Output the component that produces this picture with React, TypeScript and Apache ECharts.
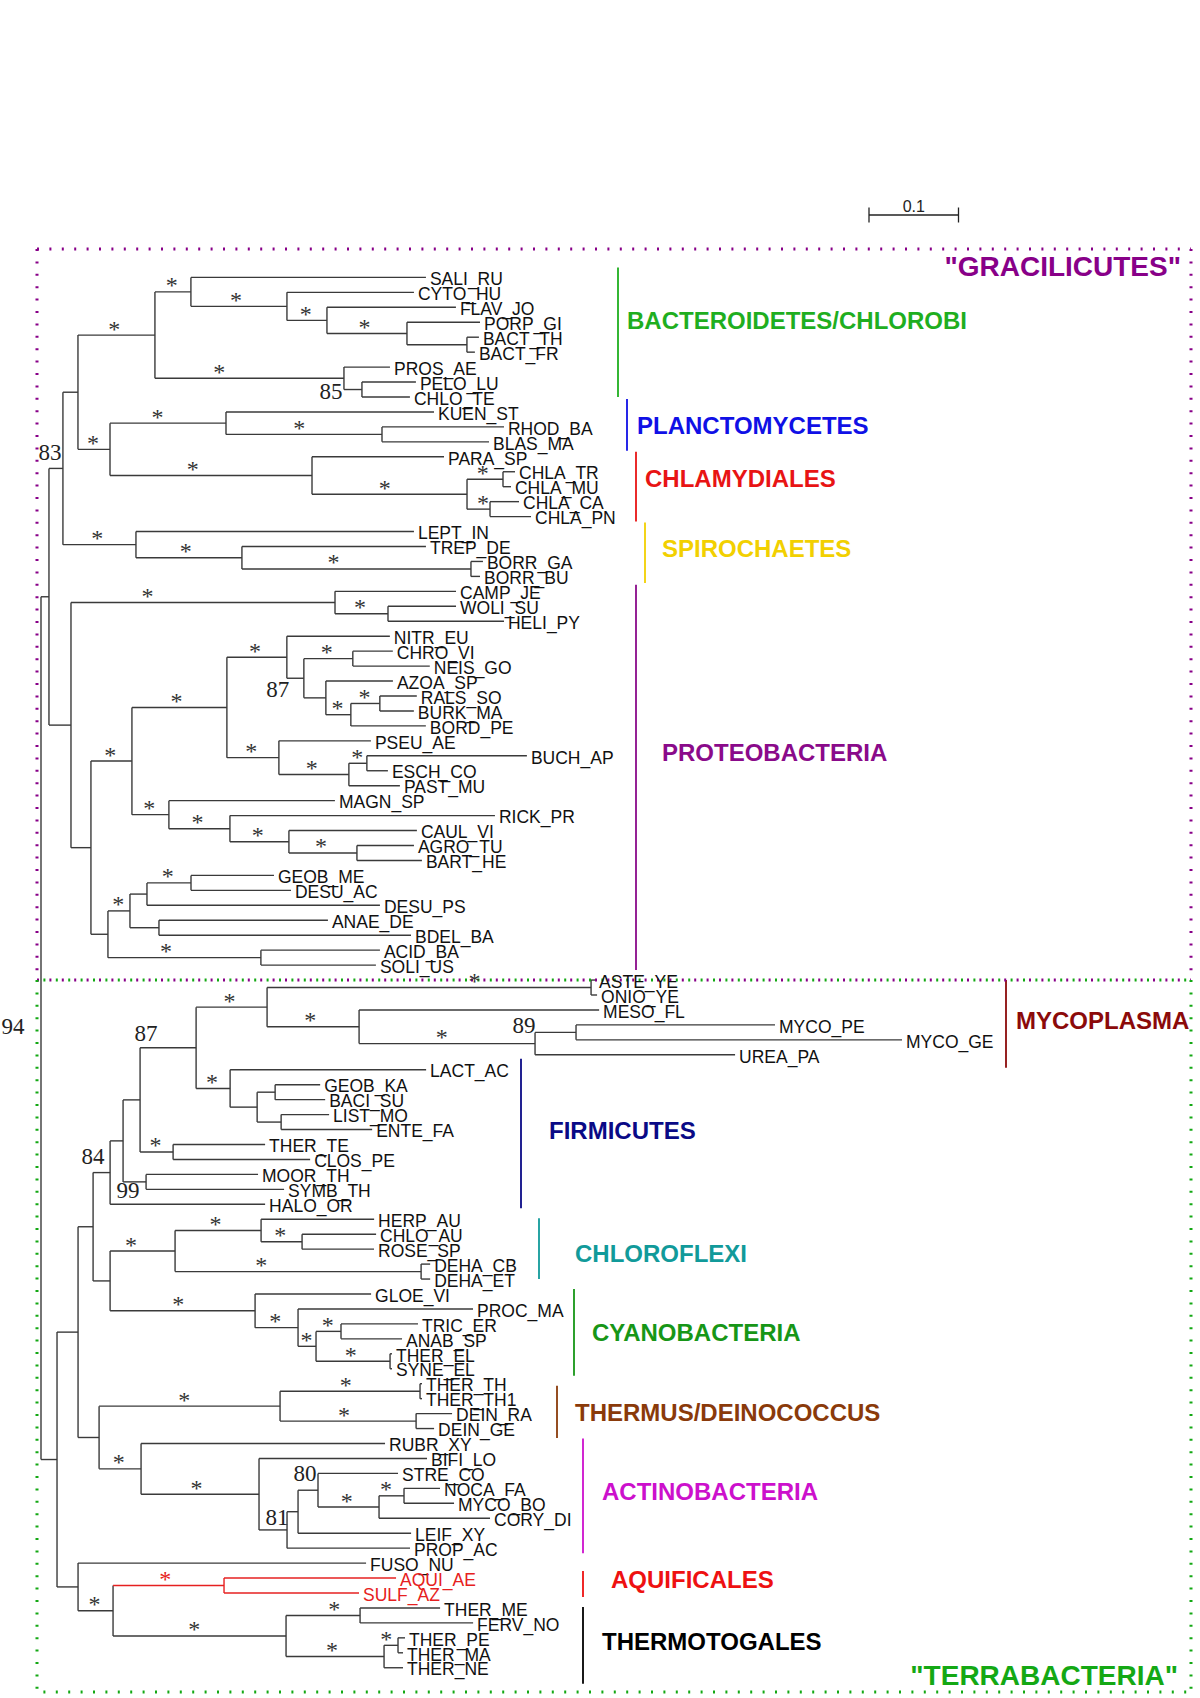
import React, { useEffect, useRef } from "react";
import * as echarts from "echarts";

// ---------------- DATA (Newick clades, branch lengths in substitutions/site) ----------------
// internal labels: "*" = full support, numbers = bootstrap, "#tag" = layout/colour tag
const BACTEROIDETES =
  "((SALI_RU:0.2626,(CYTO_HU:0.1419,(FLAV_JO:0.1441,(PORP_GI:0.0816,(BACT_TH:0.0134,BACT_FR:0.0089):0.0670)*:0.0894)*:0.0447)*:0.1073)*:0.0402,(PROS_AE:0.0514,(PELO_LU:0.0603,CHLO_TE:0.0536)85#n85:0.0201)*#a34:0.2112)";
const PLANCTOMYCETES = "(KUEN_ST:0.2324,(RHOD_BA:0.1363,BLAS_MA:0.1196)*:0.1743)";
const CHLAMYDIALES =
  "(PARA_SP:0.1475,((CHLA_TR:0.0134,CHLA_MU:0.0089)*#a44:0.0402,(CHLA_CA:0.0324,CHLA_PN:0.0458)*#a70:0.0257)*:0.1732)";
const SPIROCHAETES = "(LEPT_IN:0.3106,(TREP_DE:0.2056,(BORR_GA:0.0134,BORR_BU:0.0101)*#a40:0.2559)*:0.1184)";
const EPSILON = "(CAMP_JE:0.1352,(WOLI_SU:0.0760,HELI_PY:0.1296)*:0.0592)";
const BETA_GAMMA =
  "((NITR_EU:0.1151,((CHRO_VI:0.0447,NEIS_GO:0.0860)*:0.0547,(AZOA_SP:0.0749,((RALS_SO:0.0413,BURK_MA:0.0380)*:0.0324,BORD_PE:0.0838)*:0.0279)87#n87a:0.0246):0.0190)*:0.0670,(PSEU_AE:0.1028,((BUCH_AP:0.1788,ESCH_CO:0.0235)*:0.0201,PAST_MU:0.0570)*:0.0782)*:0.0581)";
const ALPHA = "(MAGN_SP:0.1855,(RICK_PR:0.2961,(CAUL_VI:0.1430,(AGRO_TU:0.0637,BART_HE:0.0726)*:0.0760)*:0.0659)*:0.0682)";
const DELTA_ACIDO =
  "((((GEOB_ME:0.0927,DESU_AC:0.1117)*:0.0492,DESU_PS:0.2603):0.0190,(ANAE_DE:0.1888,BDEL_BA:0.2816):0.0324)*:0.0246,(ACID_BA:0.1330,SOLI_US:0.1285)*#a38:0.1709)";
const MOLLICUTES =
  "((ASTE_YE:0.0045,ONIO_YE:0.0067)*#a64:0.3620,(MESO_FL:0.2682,((MYCO_PE:0.2223,MYCO_GE:0.3642)89#n89:0.0458,UREA_PA:0.2235)*:0.1966)*:0.1028)";
const BACILLI = "(LACT_AC:0.2190,((GEOB_KA:0.0503,BACI_SU:0.0559):0.0201,(LIST_MO:0.0536,ENTE_FA:0.1017):0.0268):0.0302)";
const CHLOROFLEXI =
  "((HERP_AU:0.1263,(CHLO_AU:0.0827,ROSE_SP:0.0804)*:0.0458)*:0.0961,(DEHA_CB:0.0101,DEHA_ET:0.0101)*#a35:0.2749)";
const CYANOBACTERIA =
  "(GLOE_VI:0.1296,(PROC_MA:0.1955,((TRIC_ER:0.0860,ANAB_SP:0.0682)*:0.0279,(THER_EL:0.0022,SYNE_EL:0.0022)*:0.0827)*:0.0201)*:0.0480)";
const THERMUS = "((THER_TH:0.0022,THER_TH1:0.0022)*:0.1564,(DEIN_RA:0.0402,DEIN_GE:0.0201)*:0.1520)";
const ACTINO =
  "(RUBR_XY:0.2726,(BIFI_LO:0.1877,(((STRE_CO:0.0894,((NOCA_FA:0.0402,MYCO_BO:0.0559)*#a28:0.0279,CORY_DI:0.1240)*:0.0682)80#n80:0.0223,LEIF_XY:0.1263):0.0123,PROP_AC:0.1374)81#n81:0.0313)*:0.1318)";
const AQUIFICALES = "(AQUI_AE:0.1922,SULF_AZ:0.1508)";
const THERMOTOGALES =
  "((THER_ME:0.0894,FERV_NO:0.1263)*#a65:0.0827,((THER_PE:0.0078,THER_MA:0.0056)*#a15:0.0156,THER_NE:0.0212)*:0.1095)";

const FIRMICUTES = `((((${MOLLICUTES}*:0.0793,${BACILLI}*:0.0380)87#n87b:0.0626,(THER_TE:0.1028,CLOS_PE:0.1531)*:0.0369):0.0190,(MOOR_TH:0.1251,SYMB_TH:0.1542)99#n99:0.0257):0.0145,HALO_OR:0.1732)`;
const GRACILICUTES = `((((${BACTEROIDETES}*:0.0860,(${PLANCTOMYCETES}*#a41:0.1296,${CHLAMYDIALES}*#a41:0.2257)*:0.0358):0.0168,${SPIROCHAETES}*:0.0816)83#n83:0.0156,(${EPSILON}*#a29:0.2950,((${BETA_GAMMA}*:0.1061,${ALPHA}*:0.0413)*:0.0458,${DELTA_ACIDO}:0.0190):0.0223):0.0246)`;
const TERRABACTERIA = `(((${FIRMICUTES}84#n84:0.0190,(${CHLOROFLEXI}*#a32:0.0726,${CYANOBACTERIA}*:0.1620):0.0190):0.0168,(${THERMUS}*:0.2022,${ACTINO}*:0.0469):0.0235):0.0235,(FUSO_NU:0.3218,(${AQUIFICALES}*#aqui:0.1240,${THERMOTOGALES}*:0.1933)*:0.0391):0.0235)`;
const TREE = `(${GRACILICUTES}:0.0089,${TERRABACTERIA}:0.0179)94#n94;`;

const GROUP_NAMES = [
  "BACTEROIDETES/CHLOROBI", "PLANCTOMYCETES", "CHLAMYDIALES", "SPIROCHAETES", "PROTEOBACTERIA",
  "MYCOPLASMA", "FIRMICUTES", "CHLOROFLEXI", "CYANOBACTERIA", "THERMUS/DEINOCOCCUS",
  "ACTINOBACTERIA", "AQUIFICALES", "THERMOTOGALES",
];
const GROUP_FIRST = ["SALI_RU", "KUEN_ST", "PARA_SP", "LEPT_IN", "CAMP_JE", "ASTE_YE", "LACT_AC", "HERP_AU", "GLOE_VI", "THER_TH", "RUBR_XY", "AQUI_AE", "THER_ME"];
const GROUP_LAST = ["CHLO_TE", "BLAS_MA", "CHLA_PN", "BORR_BU", "SOLI_US", "UREA_PA", "HALO_OR", "DEHA_ET", "SYNE_EL", "DEIN_GE", "PROP_AC", "SULF_AZ", "THER_NE"];
const SUPERGROUPS = ['"GRACILICUTES"', '"TERRABACTERIA"'];
const SCALE_BAR_LENGTH = 0.1;
const SCALE_BAR_LABEL = "0.1";

// ---------------- STYLE / LAYOUT ----------------
const GROUP_COLORS = ["#1fae1f", "#1010e6", "#e81414", "#f2d000", "#8a0a8a", "#8b0a0a", "#0a0a86", "#119a9a", "#179617", "#8a3a0a", "#cc10cc", "#ee1111", "#000000"];
// bar x(px), pad top(px), pad bottom(px), text x(px), text y(px)
const GROUP_LAYOUT = [
  [618, -10, 0, 627, 320], [627, -13, 9, 637, 425], [636, -5, 5, 645, 478], [645, -9, 6.5, 662, 548],
  [636, -6.5, 5, 662, 752], [1006, 0, 13, 1016, 1020], [521, -11, 4, 549, 1130], [539, -1, 0, 575, 1253],
  [574, -5, 7, 592, 1332], [557, 2, 9.5, 575, 1412], [583, -5, 5, 602, 1491], [583, -7, 4, 611, 1579],
  [583, -1, 16, 602, 1641],
];
const ASTERISK_FRACTION: Record<string, number> = {
  a34: 0.34, a29: 0.29, a41: 0.41, a40: 0.4, a38: 0.38, a64: 0.64, a32: 0.32, a35: 0.35,
  a65: 0.65, a15: 0.15, a28: 0.28, a70: 0.7, a44: 0.44,
};
const SUPPORT_OFFSET: Record<string, number[]> = {
  n83: [1, -16], n85: [-13, 2], n87a: [-26, -8], n94: [-28, -2], n87b: [6, -14], n89: [-11, -7],
  n84: [0, -16], n99: [5, 9], n80: [7, -17], n81: [18, -12],
};
const PX_PER_UNIT = 895;
const ROOT_PX = 41;
const TOP_PX = 277.4;
const ROW_PX = 14.95;
const W = 1200;
const H = 1698;
const LINE = "#3a3a3a";
const RED = "#e62020";
const PURPLE = "#880088";
const GREEN = "#14a814";
const SANS = "'Liberation Sans', Arial, sans-serif";
const SERIF = "'Liberation Serif', 'Times New Roman', serif";

const pxX = (px: number) => (px - ROOT_PX) / PX_PER_UNIT;
const pxY = (px: number) => (px - TOP_PX) / ROW_PX;

type TNode = { name: string; len: number; children: TNode[]; label: string; tag: string; x: number; y: number; parent: TNode | null; red: boolean };

function parseNewick(src: string): TNode {
  const s = src.replace(/\s+/g, "");
  let i = 0;
  const readNode = (parent: TNode | null): TNode => {
    const node: TNode = { name: "", len: 0, children: [], label: "", tag: "", x: 0, y: 0, parent, red: false };
    if (s[i] === "(") {
      i++;
      node.children.push(readNode(node));
      while (s[i] === ",") { i++; node.children.push(readNode(node)); }
      i++;
    }
    let lab = "";
    while (i < s.length && ":,);".indexOf(s[i]) < 0) lab += s[i++];
    if (s[i] === ":") {
      i++;
      let num = "";
      while (i < s.length && ",);".indexOf(s[i]) < 0) num += s[i++];
      node.len = parseFloat(num);
    }
    if (node.children.length) {
      const parts = lab.split("#");
      node.label = parts[0] || "";
      node.tag = parts[1] || "";
    } else node.name = lab;
    return node;
  };
  return readNode(null);
}

type Seg = { x1: number; y1: number; x2: number; y2: number; color: string; w: number; dash?: number[]; off?: number };
type Txt = { x: number; y: number; text: string; dx: number; dy: number; color: string; size: number; family: string; weight: string; align: string; vAlign: string };

function build() {
  const root = parseNewick(TREE);
  const all: TNode[] = [];
  const leafY: Record<string, number> = {};
  let counter = 0;
  const layout = (n: TNode, x: number, red: boolean) => {
    n.x = x;
    n.red = red || n.tag === "aqui";
    all.push(n);
    if (!n.children.length) { n.y = counter++; leafY[n.name] = n.y; return; }
    n.children.forEach((c) => layout(c, x + c.len, n.red));
    n.y = (n.children[0].y + n.children[n.children.length - 1].y) / 2;
  };
  layout(root, 0, false);

  const segs: Seg[] = [];
  const texts: Txt[] = [];
  for (const n of all) {
    const col = n.red ? RED : LINE;
    if (n.parent) segs.push({ x1: n.parent.x, y1: n.y, x2: n.x, y2: n.y, color: col, w: 1.4 });
    if (n.children.length) {
      segs.push({ x1: n.x, y1: n.children[0].y, x2: n.x, y2: n.children[n.children.length - 1].y, color: col, w: 1.4 });
      if (n.label === "*" && n.parent) {
        const f = ASTERISK_FRACTION[n.tag] ?? 0.47;
        texts.push({ x: n.parent.x + f * n.len, y: n.y, text: "*", dx: 0, dy: -6.5, color: n.red ? RED : "#333", size: 24, family: SERIF, weight: "normal", align: "center", vAlign: "middle" });
      } else if (n.label) {
        const off = SUPPORT_OFFSET[n.tag] || [0, -14];
        const ax = n.parent ? n.parent.x : n.x;
        texts.push({ x: ax, y: n.y, text: n.label, dx: off[0], dy: off[1], color: "#222", size: 23, family: SERIF, weight: "normal", align: "center", vAlign: "middle" });
      }
    } else {
      texts.push({ x: n.x, y: n.y, text: n.name, dx: 4, dy: 1.7, color: n.red ? RED : "#111", size: 17.5, family: SANS, weight: "normal", align: "left", vAlign: "middle" });
    }
  }

  // clade bars and names
  GROUP_NAMES.forEach((g, k) => {
    const [bx, pt, pb, tx, ty] = GROUP_LAYOUT[k];
    const y1 = leafY[GROUP_FIRST[k]] + pt / ROW_PX;
    const y2 = leafY[GROUP_LAST[k]] + pb / ROW_PX;
    segs.push({ x1: pxX(bx), y1, x2: pxX(bx), y2, color: GROUP_COLORS[k], w: 1.8 });
    texts.push({ x: pxX(tx), y: pxY(ty), text: g, dx: 0, dy: 0, color: GROUP_COLORS[k], size: 24, family: SANS, weight: "bold", align: "left", vAlign: "middle" });
  });

  // dotted supergroup boxes
  const L = pxX(37), R = pxX(1191), T = pxY(249), M = pxY(980), B = pxY(1692);
  const dash = [2, 10.4];
  const box = (yt: number, yb: number, color: string, off: number) => {
    segs.push({ x1: L, y1: yt, x2: R, y2: yt, color, w: 3, dash, off });
    segs.push({ x1: L, y1: yb, x2: R, y2: yb, color, w: 3, dash, off });
    segs.push({ x1: L, y1: yt, x2: L, y2: yb, color, w: 3, dash, off: 0 });
    segs.push({ x1: R, y1: yt, x2: R, y2: yb, color, w: 3, dash, off: 0 });
  };
  box(T, M, PURPLE, 0);
  box(M, B, GREEN, 6);
  texts.push({ x: pxX(1181), y: pxY(266), text: SUPERGROUPS[0], dx: 0, dy: 0, color: PURPLE, size: 28, family: SANS, weight: "bold", align: "right", vAlign: "middle" });
  texts.push({ x: pxX(1178), y: pxY(1675), text: SUPERGROUPS[1], dx: 0, dy: 0, color: GREEN, size: 28, family: SANS, weight: "bold", align: "right", vAlign: "middle" });

  // scale bar
  const sx = pxX(869), sy = pxY(215), tick = 7.5 / ROW_PX;
  segs.push({ x1: sx, y1: sy, x2: sx + SCALE_BAR_LENGTH, y2: sy, color: "#222", w: 1.3 });
  segs.push({ x1: sx, y1: sy - tick, x2: sx, y2: sy + tick, color: "#222", w: 1.3 });
  segs.push({ x1: sx + SCALE_BAR_LENGTH, y1: sy - tick, x2: sx + SCALE_BAR_LENGTH, y2: sy + tick, color: "#222", w: 1.3 });
  texts.push({ x: sx + SCALE_BAR_LENGTH / 2, y: sy, text: SCALE_BAR_LABEL, dx: 0, dy: -9, color: "#222", size: 16, family: SANS, weight: "normal", align: "center", vAlign: "middle" });

  return { segs, texts };
}

export default function App() {
  const ref = useRef<HTMLDivElement>(null);
  useEffect(() => {
    if (!ref.current) return;
    const chart = echarts.init(ref.current, undefined, { renderer: "svg" });
    const { segs, texts } = build();
    chart.setOption({
      animation: false,
      backgroundColor: "#ffffff",
      grid: { left: 0, top: 0, width: W, height: H, containLabel: false },
      xAxis: { type: "value", min: -ROOT_PX / PX_PER_UNIT, max: (W - ROOT_PX) / PX_PER_UNIT, show: false },
      yAxis: { type: "value", min: -TOP_PX / ROW_PX, max: (H - TOP_PX) / ROW_PX, inverse: true, show: false },
      series: [
        {
          type: "custom",
          silent: true,
          clip: false,
          data: segs.map((s) => [s.x1, s.y1, s.x2, s.y2]),
          encode: { x: [0, 2], y: [1, 3] },
          renderItem: (params: any, api: any) => {
            const s = segs[params.dataIndex];
            const p1 = api.coord([s.x1, s.y1]);
            const p2 = api.coord([s.x2, s.y2]);
            return {
              type: "line",
              shape: { x1: p1[0], y1: p1[1], x2: p2[0], y2: p2[1] },
              style: { stroke: s.color, lineWidth: s.w, lineDash: s.dash || null, lineDashOffset: s.off || 0, lineCap: "butt" },
            };
          },
        },
        {
          type: "custom",
          silent: true,
          clip: false,
          data: texts.map((t) => [t.x, t.y]),
          renderItem: (params: any, api: any) => {
            const t = texts[params.dataIndex];
            const p = api.coord([t.x, t.y]);
            return {
              type: "text",
              x: p[0] + t.dx,
              y: p[1] + t.dy,
              style: {
                text: t.text, fill: t.color, fontSize: t.size, fontFamily: t.family, fontWeight: t.weight,
                align: t.align, verticalAlign: t.vAlign,
              },
            };
          },
        },
      ],
    });
    return () => chart.dispose();
  }, []);
  return <div ref={ref} style={{ position: "absolute", left: 0, top: 0, width: W, height: H, background: "#fff" }} />;
}
